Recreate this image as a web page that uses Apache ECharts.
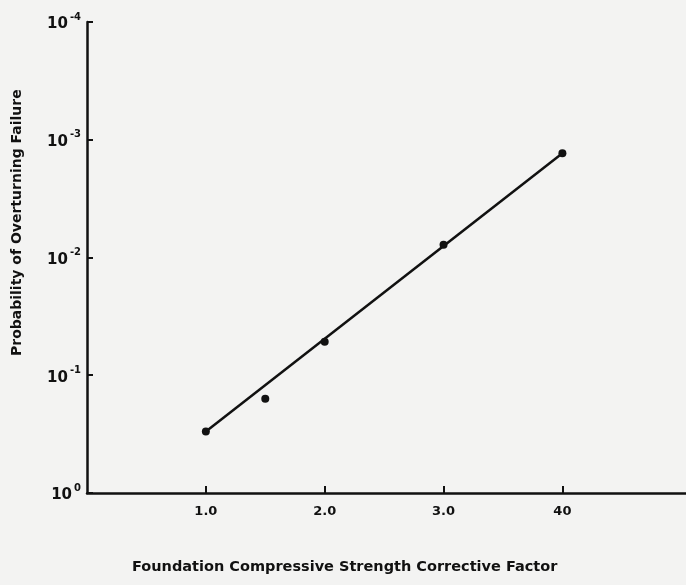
<!DOCTYPE html>
<html>
<head>
<meta charset="utf-8">
<style>
  html, body { margin: 0; padding: 0; background: #f3f3f2; }
  #chart { width: 686px; height: 585px; }
</style>
<script src="https://cdn.jsdelivr.net/npm/echarts@6/dist/echarts.min.js"></script>
</head>
<body>
<div id="chart"></div>
<script>
// Corrective factor vs. probability of overturning failure
const factors = [1.0, 1.5, 2.0, 3.0, 4.0];
const probabilities = [0.30, 0.158, 0.052, 0.0078, 0.0013];

// Fitted trend line (end points)
const fitFactors = [1.0, 4.0];
const fitProbabilities = [0.30, 0.0013];

// Axis ticks and their labels
const xTickValues = [1, 2, 3, 4];
const xTickLabels = ['1.0', '2.0', '3.0', '40'];
const yTickValues = [1e-4, 1e-3, 1e-2, 1e-1, 1];
const yTickExponents = ['-4', '-3', '-2', '-1', '0'];

const ink = '#111111';
const font = 'DejaVu Sans';

const chart = echarts.init(document.getElementById('chart'), null, { renderer: 'canvas' });

chart.setOption({
  backgroundColor: '#f3f3f2',
  animation: false,
  grid: { left: 87, top: 22, width: 600, height: 471, containLabel: false },
  xAxis: {
    type: 'value',
    position: 'bottom',
    min: 0,
    max: 5.04,
    interval: 1,
    axisLine: { onZero: false, lineStyle: { color: ink, width: 2.5 } },
    axisTick: {
      inside: true, length: 7, customValues: xTickValues,
      lineStyle: { color: ink, width: 2 }
    },
    axisLabel: {
      customValues: xTickValues,
      formatter: v => xTickLabels[xTickValues.indexOf(v)] || '',
      color: ink, fontFamily: font, fontWeight: 'bold', fontSize: 13, margin: 12
    },
    splitLine: { show: false }
  },
  yAxis: {
    type: 'log',
    logBase: 10,
    min: 1e-4,
    max: 1,
    inverse: true,
    axisLine: { lineStyle: { color: ink, width: 2.5 } },
    axisTick: { inside: true, length: 6, lineStyle: { color: ink, width: 2 } },
    axisLabel: {
      margin: 6,
      formatter: v => {
        let i = yTickValues.findIndex(t => Math.abs(Math.log10(t) - Math.log10(v)) < 1e-6);
        if (i < 0) return '';
        return '{b|10}{s|' + yTickExponents[i] + '}';
      },
      rich: {
        b: { color: ink, fontFamily: font, fontWeight: 'bold', fontSize: 15, lineHeight: 20, verticalAlign: 'bottom' },
        s: { color: ink, fontFamily: font, fontWeight: 'bold', fontSize: 10, lineHeight: 20, verticalAlign: 'top', padding: [0, 0, 0, 2] }
      }
    },
    splitLine: { show: false }
  },
  graphic: [
    {
      type: 'text',
      left: 132, top: 560,
      style: {
        text: 'Foundation Compressive Strength Corrective Factor',
        fill: ink, font: 'bold 14.5px "DejaVu Sans"'
      }
    },
    {
      type: 'text',
      x: 10, y: 356, rotation: Math.PI / 2,
      style: {
        text: 'Probability of Overturning Failure',
        fill: ink, font: 'bold 14px "DejaVu Sans"'
      }
    }
  ],
  series: [
    {
      type: 'line',
      data: fitFactors.map((x, i) => [x, fitProbabilities[i]]),
      showSymbol: false,
      lineStyle: { color: ink, width: 2.5 },
      z: 2
    },
    {
      type: 'scatter',
      data: factors.map((x, i) => [x, probabilities[i]]),
      symbol: 'circle',
      symbolSize: 8,
      itemStyle: { color: ink, opacity: 1 },
      z: 3
    }
  ]
});
</script>
</body>
</html>
